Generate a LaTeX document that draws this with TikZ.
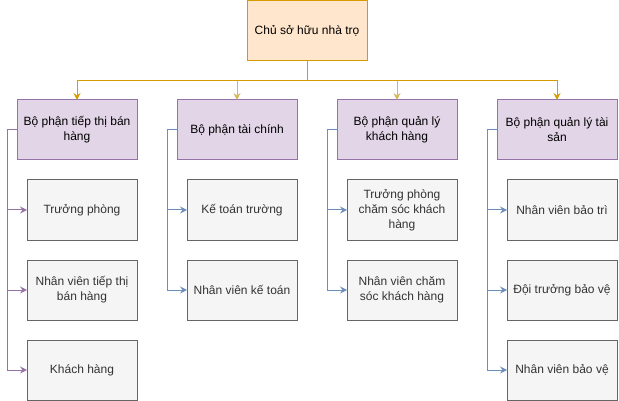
\documentclass[tikz,border=0pt]{standalone}
\usepackage{fontspec}
\setmainfont{Liberation Sans}
\usepackage{tikz}
\usetikzlibrary{arrows.meta,positioning}

\definecolor{ownfill}{HTML}{FFE6CC}
\definecolor{owndraw}{HTML}{D79B00}
\definecolor{goldline}{HTML}{D6B656}
\definecolor{deptfill}{HTML}{E1D5E7}
\definecolor{deptdraw}{HTML}{9673A6}
\definecolor{staffill}{HTML}{F5F5F5}
\definecolor{stafdraw}{HTML}{666666}
\definecolor{staftext}{HTML}{333333}
\definecolor{blueline}{HTML}{6C8EBF}

\begin{document}
\begin{tikzpicture}[
    x=1pt, y=-1pt, line width=1pt,
    font=\fontsize{12}{15}\selectfont,
    owner/.style={draw=owndraw, fill=ownfill, minimum width=120pt, minimum height=60pt, outer sep=0pt, align=center},
    dept/.style={draw=deptdraw, fill=deptfill, minimum width=120pt, minimum height=60pt, outer sep=0pt, align=center},
    staff/.style={draw=stafdraw, fill=staffill, text=staftext, minimum width=110pt, minimum height=60pt, outer sep=0pt, align=center},
    tip/.style={-{Stealth[length=7pt, width=7pt, inset=2.5pt]}},
    topedge/.style={tip, owndraw},
    topedge2/.style={tip, goldline},
    purpedge/.style={tip, deptdraw},
    blueedge/.style={tip, blueline}
]
\useasboundingbox (0,0) rectangle (619,401);
\node[owner] (top) at (307,30.5) {Chủ sở hữu nhà trọ};
\node[dept] (d1) at (77,130) {Bộ phận tiếp thị bán\\hàng};
\node[dept, right=40pt of d1] (d2) {Bộ phận tài chính};
\node[dept, right=40pt of d2] (d3) {Bộ phận quản lý\\khách hàng};
\node[dept, right=40pt of d3] (d4) {Bộ phận quản lý tài\\sản};
% nhan vien
\node[staff, below left=20pt and 0pt of d1.south east] (s11) {Trưởng phòng};
\node[staff, below=20pt of s11] (s12) {Nhân viên tiếp thị\\bán hàng};
\node[staff, below=20pt of s12] (s13) {Khách hàng};
\node[staff, below left=20pt and 0pt of d2.south east] (s21) {Kế toán trường};
\node[staff, below=20pt of s21] (s22) {Nhân viên kế toán};
\node[staff, below left=20pt and 0pt of d3.south east] (s31) {Trưởng phòng\\chăm sóc khách\\hàng};
\node[staff, below=20pt of s31] (s32) {Nhân viên chăm\\sóc khách hàng};
\node[staff, below left=20pt and 0pt of d4.south east] (s41) {Nhân viên bảo trì};
\node[staff, below=20pt of s41] (s42) {Đội trưởng bảo vệ};
\node[staff, below=20pt of s42] (s43) {Nhân viên bảo vệ};
% chu -> bo phan
\draw[topedge2] (top.south) -- ++(0,20) -| (d2.north);
\draw[topedge2] (top.south) -- ++(0,20) -| (d3.north);
\draw[topedge] (top.south) -- ++(0,20) -| (d1.north);
\draw[topedge] (top.south) -- ++(0,20) -| (d4.north);
% bo phan -> nhan vien
\foreach \s in {s11,s12,s13}
  \draw[purpedge] (d1.west) -- ++(-10,0) |- (\s.west);
\foreach \s in {s21,s22}
  \draw[blueedge] (d2.west) -- ++(-10,0) |- (\s.west);
\foreach \s in {s31,s32}
  \draw[blueedge] (d3.west) -- ++(-10,0) |- (\s.west);
\foreach \s in {s41,s42,s43}
  \draw[blueedge] (d4.west) -- ++(-10,0) |- (\s.west);
\end{tikzpicture}
\end{document}
